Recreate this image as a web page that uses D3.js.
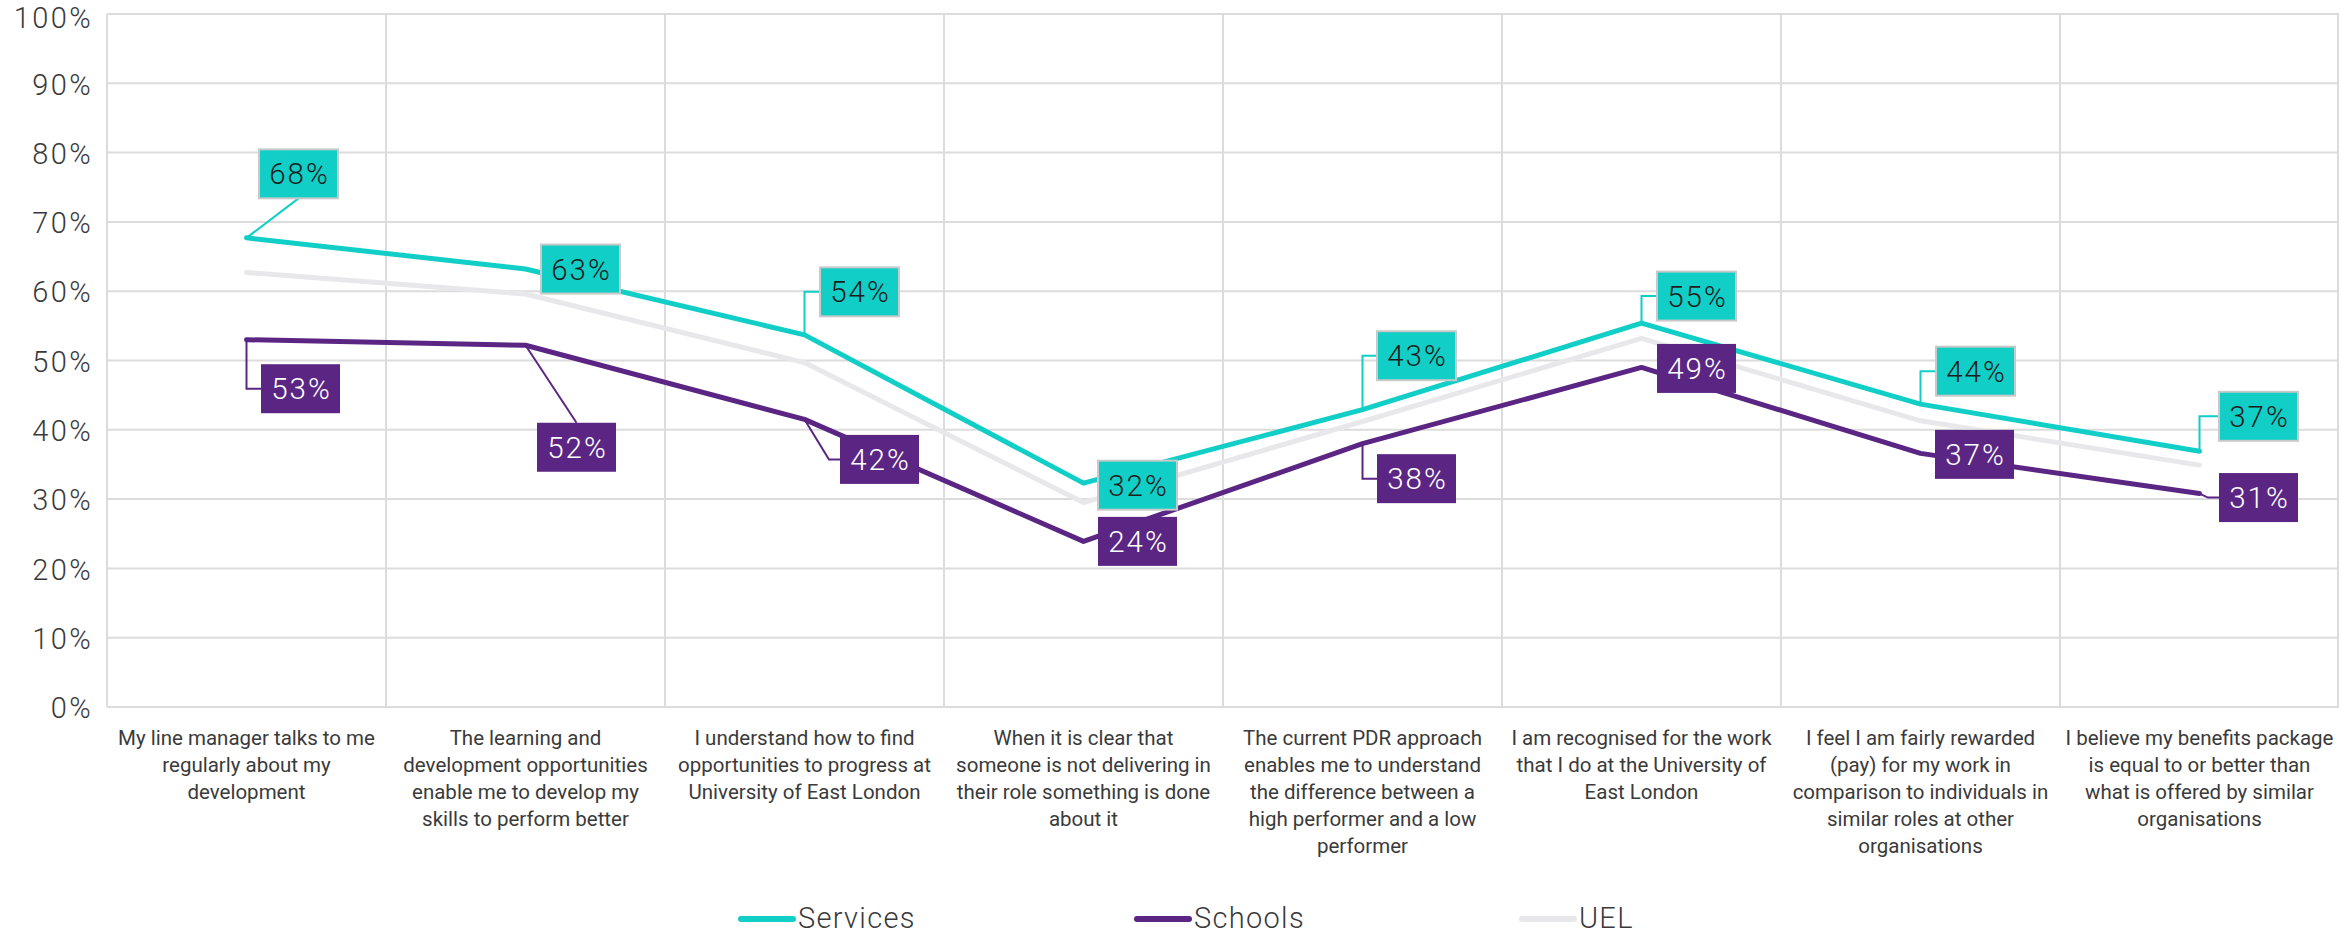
<!DOCTYPE html>
<html>
<head>
<meta charset="utf-8">
<script src="https://cdn.jsdelivr.net/npm/d3@7"></script>
<style>
  html, body { margin: 0; padding: 0; background: #fff; }
  svg { display: block; }
  text { font-family: Roboto, "Open Sans", sans-serif; }
</style>
</head>
<body>
<svg id="chart" width="2339" height="935"></svg>
<script>
// ---------------- DATA ----------------
const categories = [
  ["My line manager talks to me", "regularly about my", "development"],
  ["The learning and", "development opportunities", "enable me to develop my", "skills to perform better"],
  ["I understand how to find", "opportunities to progress at", "University of East London"],
  ["When it is clear that", "someone is not delivering in", "their role something is done", "about it"],
  ["The current PDR approach", "enables me to understand", "the difference between a", "high performer and a low", "performer"],
  ["I am recognised for the work", "that I do at the University of", "East London"],
  ["I feel I am fairly rewarded", "(pay) for my work in", "comparison to individuals in", "similar roles at other", "organisations"],
  ["I believe my benefits package", "is equal to or better than", "what is offered by similar", "organisations"]
];
const seriesNames = ["Services", "Schools", "UEL"];
const servicesValues = [67.7, 63.2, 53.7, 32.3, 42.9, 55.4, 43.7, 36.9];
const schoolsValues  = [53.0, 52.2, 41.5, 23.9, 38.0, 49.0, 36.6, 30.8];
const uelValues      = [62.7, 59.6, 49.7, 29.5, 41.2, 53.2, 41.3, 34.9];
const yTicks = [0, 10, 20, 30, 40, 50, 60, 70, 80, 90, 100];

// ---------------- LAYOUT / STYLE ----------------
const W = 2339, H = 935;
const plot = { left: 107, right: 2339, top: 14, bottom: 707 };
const colors = { Services: "#11CEC7", Schools: "#5B2683", UEL: "#E8E8EA" };
const grid = "#DCDCDC";
const textCol = "#3a3a3a";

// label placement (box-centre offset from the point, in px) and leader style
const servicesLabelLayout = [
  {dx: 52, dy: -64, leader: "straight"},
  {dx: 55, dy: 0,   leader: "none"},
  {dx: 55, dy: -43, leader: "elbow"},
  {dx: 54, dy: 2,   leader: "none"},
  {dx: 54, dy: -54, leader: "elbow"},
  {dx: 55, dy: -27, leader: "elbow"},
  {dx: 55, dy: -33, leader: "elbow"},
  {dx: 59, dy: -35, leader: "elbow"}
];
const schoolsLabelLayout = [
  {dx: 54, dy: 49,  leader: "elbow"},
  {dx: 51, dy: 102, leader: "straight"},
  {dx: 75, dy: 40,  leader: "diag"},
  {dx: 54, dy: 0,   leader: "none"},
  {dx: 54, dy: 35,  leader: "elbow"},
  {dx: 55, dy: 1,   leader: "none"},
  {dx: 54, dy: 1,   leader: "none"},
  {dx: 59, dy: 4,   leader: "diag"}
];

const svg = d3.select("#chart");

const x = d3.scaleBand()
  .domain(d3.range(categories.length))
  .range([plot.left, plot.right])
  .padding(0);
const y = d3.scaleLinear().domain([0, 100]).range([plot.bottom, plot.top]);
const cx = i => x(i) + x.bandwidth() / 2;

// ---- gridlines ----
const gridG = svg.append("g");
gridG.selectAll("line.h").data(yTicks).join("line")
  .attr("x1", plot.left).attr("x2", plot.right)
  .attr("y1", d => y(d)).attr("y2", d => y(d))
  .attr("stroke", grid).attr("stroke-width", 2);
const vBounds = d3.range(categories.length + 1).map(i => i < categories.length ? x(i) : plot.right - 1);
gridG.selectAll("line.v").data(vBounds).join("line")
  .attr("x1", d => d).attr("x2", d => d)
  .attr("y1", plot.top).attr("y2", plot.bottom)
  .attr("stroke", grid).attr("stroke-width", 2);

// ---- y axis labels ----
const yAxis = d3.axisLeft(y).tickValues(yTicks).tickFormat(d => d + "%").tickSize(0).tickPadding(14);
const yg = svg.append("g").attr("transform", `translate(${plot.left},0)`).call(yAxis);
yg.select(".domain").remove();
yg.selectAll("text")
  .attr("font-family", "Roboto, sans-serif")
  .attr("font-size", 29).attr("font-weight", 300)
  .attr("letter-spacing", 2.4)
  .attr("dy", d => d === 100 ? "0.48em" : "0.37em")
  .attr("fill", textCol);

// ---- x axis labels ----
const xg = svg.append("g");
categories.forEach((lines, i) => {
  const t = xg.append("text")
    .attr("x", cx(i)).attr("y", 745)
    .attr("text-anchor", "middle")
    .attr("font-size", 20.5).attr("font-weight", 400)
    .attr("fill", textCol);
  lines.forEach((ln, k) => {
    t.append("tspan").attr("x", cx(i)).attr("y", 745 + k * 27).text(ln);
  });
});

// ---- lines ----
const line = d3.line().x((d, i) => cx(i)).y(d => y(d));
const seriesData = [
  {name: "UEL", values: uelValues},
  {name: "Services", values: servicesValues},
  {name: "Schools", values: schoolsValues}
];
svg.append("g").selectAll("path").data(seriesData).join("path")
  .attr("d", d => line(d.values))
  .attr("fill", "none")
  .attr("stroke", d => colors[d.name])
  .attr("stroke-width", 5)
  .attr("stroke-linejoin", "round")
  .attr("stroke-linecap", "round");

// ---- data labels ----
const boxW = 79, boxH = 49;
function drawLabels(values, layout, fill, textFill, border) {
  const g = svg.append("g");
  values.forEach((v, i) => {
    const px = cx(i), py = y(v);
    const L = layout[i];
    const bx = px + L.dx, by = py + L.dy;
    const left = bx - boxW / 2, top = by - boxH / 2;
    let path = null;
    if (L.leader === "straight") {
      const ey = L.dy < 0 ? top + boxH : top;
      path = `M${px},${py}L${bx},${ey}`;
    } else if (L.leader === "elbow") {
      path = `M${px},${py}L${px},${by}L${left},${by}`;
    } else if (L.leader === "diag") {
      path = `M${px},${py}L${left - 11},${by}L${left},${by}`;
    }
    if (path) {
      g.append("path").attr("d", path).attr("fill", "none")
        .attr("stroke", fill).attr("stroke-width", 2);
    }
    g.append("rect")
      .attr("x", left).attr("y", top).attr("width", boxW).attr("height", boxH)
      .attr("fill", fill)
      .attr("stroke", border).attr("stroke-width", border === "none" ? 0 : 2);
    g.append("text")
      .attr("x", bx + 1).attr("y", by)
      .attr("dy", "0.36em")
      .attr("text-anchor", "middle")
      .attr("font-size", 29.5).attr("font-weight", 300)
      .attr("letter-spacing", 2)
      .attr("fill", textFill)
      .text(Math.round(v) + "%");
  });
}
drawLabels(servicesValues, servicesLabelLayout, colors.Services, "#1d1d1d", "#C9C9C9");
drawLabels(schoolsValues, schoolsLabelLayout, colors.Schools, "#ffffff", "none");

// ---- legend ----
const legendX = { Services: 741, Schools: 1137, UEL: 1522 };
const legendY = 918;
const lg = svg.append("g");
seriesNames.forEach(n => {
  lg.append("line")
    .attr("x1", legendX[n]).attr("x2", legendX[n] + 52)
    .attr("y1", legendY + 1).attr("y2", legendY + 1)
    .attr("stroke", colors[n]).attr("stroke-width", 6)
    .attr("stroke-linecap", "round");
  lg.append("text")
    .attr("x", legendX[n] + 57).attr("y", legendY)
    .attr("dy", "0.36em")
    .attr("font-size", 29).attr("font-weight", 300)
    .attr("letter-spacing", 1.3)
    .attr("fill", textCol)
    .text(n);
});
</script>
</body>
</html>
